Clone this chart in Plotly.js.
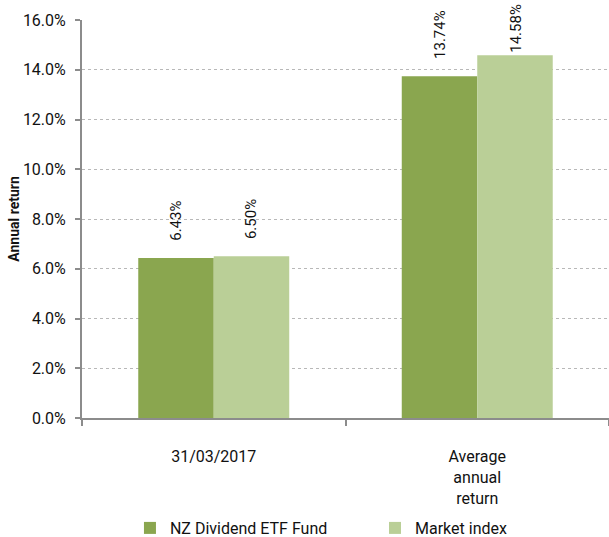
<!DOCTYPE html>
<html><head><meta charset="utf-8">
<script src="https://cdn.plot.ly/plotly-3.0.1.min.js"></script>
<style>html,body{margin:0;padding:0;background:#fff;overflow:hidden}</style>
</head><body><div id="chart" style="width:609px;height:537px"></div>
<script>
const categories = ["31/03/2017", "Average<br>annual<br>return"];
const seriesNames = ["NZ Dividend ETF Fund", "Market index"];
const fundValues = [6.43, 13.74];
const indexValues = [6.50, 14.58];
const yTickVals = [0, 2, 4, 6, 8, 10, 12, 14, 16];
const yTickText = ["0.0%", "2.0%", "4.0%", "6.0%", "8.0%", "10.0%", "12.0%", "14.0%", "16.0%"];

const colors = ["#8aa64f", "#bacf97"];
const textColor = "#111";
const fam = "Roboto, 'Noto Sans', sans-serif";
const yMax = 16;
const legendIds = ["legend", "legend2"];

const traces = [fundValues, indexValues].map((vals, i) => ({
  type: "bar", name: seriesNames[i], x: categories, y: vals, legend: legendIds[i],
  marker: {color: colors[i]}, hoverinfo: "skip"
}));

const annotations = [];
[fundValues, indexValues].forEach((vals, i) => {
  vals.forEach((v, j) => {
    const tooHigh = v > 14.2;
    annotations.push({
      xref: "x", yref: tooHigh ? "paper" : "y", x: categories[j], y: tooHigh ? 1 : v,
      text: v.toFixed(2) + "%", showarrow: false, textangle: -90,
      xanchor: "center", yanchor: tooHigh ? "top" : "bottom",
      xshift: (i === 0 ? -38 : 38), yshift: tooHigh ? 18 : 15,
      font: {family: fam, size: 15, color: textColor}
    });
  });
});

const legendBase = {orientation: "h", xanchor: "left", y: -0.2764, yanchor: "middle",
  font: {family: fam, size: 16, color: textColor}, itemwidth: 30, bgcolor: "rgba(0,0,0,0)"};

const layout = {
  width: 609, height: 537,
  margin: {l: 82, r: 0, t: 20, b: 119, autoexpand: false},
  paper_bgcolor: "#fff", plot_bgcolor: "#fff",
  font: {family: fam, size: 16, color: textColor},
  barmode: "group", bargap: 0.427, bargroupgap: 0,
  showlegend: true,
  legend: Object.assign({}, legendBase, {x: 0.091}),
  legend2: Object.assign({}, legendBase, {x: 0.556}),
  xaxis: {
    showline: true, linecolor: "#8c8c8c", linewidth: 2,
    ticks: "outside", tickson: "boundaries", ticklen: 6, tickcolor: "#8c8c8c", tickwidth: 2,
    ticklabelstandoff: 23,
    showgrid: false, zeroline: false, fixedrange: true,
    tickfont: {family: fam, size: 16, color: textColor}
  },
  yaxis: {
    range: [0, yMax], tickvals: yTickVals, ticktext: yTickText,
    showline: true, linecolor: "#8c8c8c", linewidth: 2,
    ticks: "outside", ticklen: 5, tickcolor: "#8c8c8c", tickwidth: 2,
    ticklabelstandoff: 6,
    showgrid: true, gridcolor: "#b8b8b8", griddash: "dot", gridwidth: 1,
    zeroline: false, fixedrange: true,
    tickfont: {family: fam, size: 16, color: textColor},
    title: {text: "<b>Annual return</b>", standoff: 0, font: {family: fam, size: 14, color: textColor}}
  },
  annotations: annotations
};

Plotly.newPlot("chart", traces, layout, {displayModeBar: false, staticPlot: true});
</script></body></html>
